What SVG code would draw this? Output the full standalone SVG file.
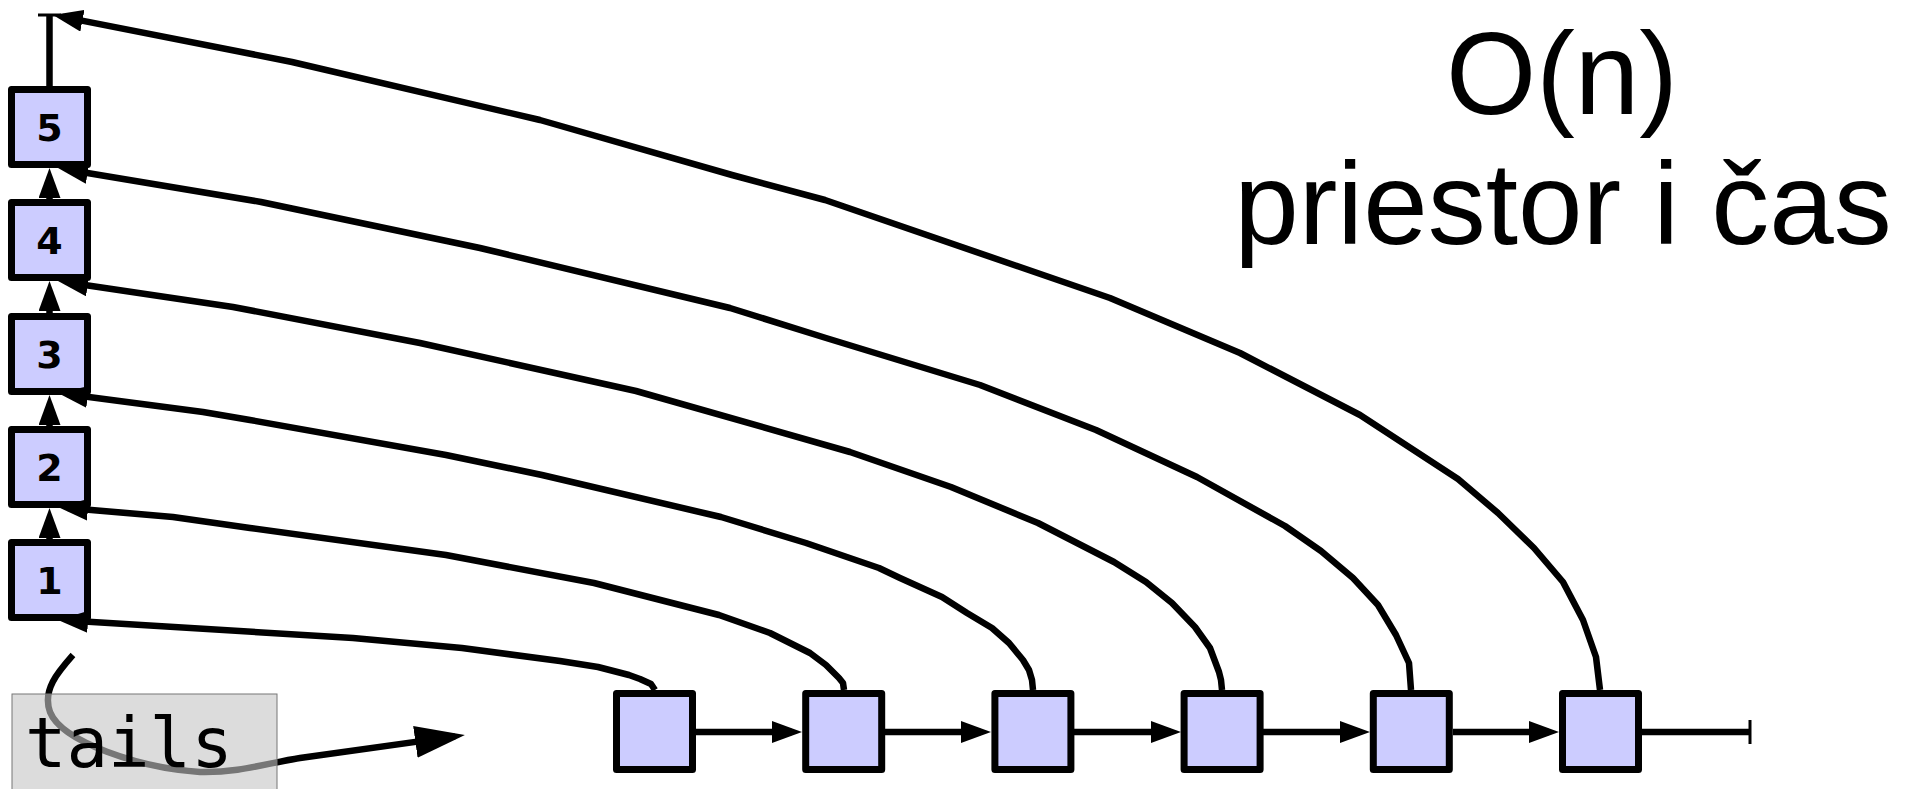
<svg xmlns="http://www.w3.org/2000/svg" width="1915" height="789" viewBox="0 0 1915 789">
  <style>
    .box { fill: #ccccff; stroke: #000; stroke-width: 7; stroke-linejoin: round; }
    .num { font-family: "DejaVu Sans", "Liberation Sans", sans-serif; font-weight: bold; font-size: 38px; text-anchor: middle; fill: #000; }
    .link { fill: none; stroke: #000; stroke-width: 6.5; stroke-linejoin: round; }
    .arr { marker-end: url(#head); }
    .title { font-family: "Liberation Sans", Arial, sans-serif; font-size: 116px; text-anchor: middle; fill: #000; }
    .mono { font-family: "DejaVu Sans Mono", "Liberation Mono", monospace; font-size: 69px; fill: #000; }
  </style>
  <defs>
    <marker id="head" markerUnits="userSpaceOnUse" markerWidth="30" markerHeight="22" refX="20" refY="11" orient="auto">
      <path d="M0,0 L30,11 L0,22 Z" fill="#000"/>
    </marker>
    <marker id="bighead" markerUnits="userSpaceOnUse" markerWidth="50" markerHeight="32" refX="40" refY="16" orient="auto">
      <path d="M0,0 L50,16 L0,32 Z" fill="#000"/>
    </marker>
  </defs>
  <rect width="1915" height="789" fill="#fff"/>

  <!-- stack of tail pointers, bottom (1) to top (5) -->
  <g id="tail1"><rect class="box" x="11.5" y="542.5" width="76" height="75"/><text class="num" x="49.5" y="594">1</text></g>
  <g id="tail2"><rect class="box" x="11.5" y="429.5" width="76" height="75"/><text class="num" x="49.5" y="481">2</text></g>
  <g id="tail3"><rect class="box" x="11.5" y="316.5" width="76" height="75"/><text class="num" x="49.5" y="368">3</text></g>
  <g id="tail4"><rect class="box" x="11.5" y="202.5" width="76" height="75"/><text class="num" x="49.5" y="254">4</text></g>
  <g id="tail5"><rect class="box" x="11.5" y="89.5" width="76" height="75"/><text class="num" x="49.5" y="141">5</text></g>

  <!-- linked list nodes -->
  <g id="node1"><rect class="box" x="616.5" y="693.5" width="76" height="76"/></g>
  <g id="node2"><rect class="box" x="805.7" y="693.5" width="76" height="76"/></g>
  <g id="node3"><rect class="box" x="994.9" y="693.5" width="76" height="76"/></g>
  <g id="node4"><rect class="box" x="1184.1" y="693.5" width="76" height="76"/></g>
  <g id="node5"><rect class="box" x="1373.3" y="693.5" width="76" height="76"/></g>
  <g id="node6"><rect class="box" x="1562.5" y="693.5" width="76" height="76"/></g>

  <!-- complexity label -->
  <g id="label">
    <text class="title" x="1562" y="114">O(n)</text>
    <text class="title" x="1563" y="244">priestor i čas</text>
  </g>

  <g id="connectors">
    <!-- stack chain -->
    <line class="link arr" x1="49.5" y1="540" x2="49.5" y2="518"/>
    <line class="link arr" x1="49.5" y1="427" x2="49.5" y2="405"/>
    <line class="link arr" x1="49.5" y1="313" x2="49.5" y2="291"/>
    <line class="link arr" x1="49.5" y1="200" x2="49.5" y2="178"/>
    <line class="link" x1="49.5" y1="87" x2="49.5" y2="15"/>
    <line x1="38" y1="15" x2="61" y2="15" stroke="#000" stroke-width="3"/>

    <!-- list next pointers -->
    <line class="link arr" x1="696" y1="732" x2="792" y2="732"/>
    <line class="link arr" x1="885" y1="732" x2="981" y2="732"/>
    <line class="link arr" x1="1074" y1="732" x2="1171" y2="732"/>
    <line class="link arr" x1="1263" y1="732" x2="1360" y2="732"/>
    <line class="link arr" x1="1453" y1="732" x2="1549" y2="732"/>
    <line class="link" x1="1642" y1="732" x2="1750" y2="732"/>
    <line x1="1750" y1="720" x2="1750" y2="744" stroke="#000" stroke-width="3"/>

    <!-- node -> tail pointers -->
    <polyline class="link arr" points="655,690 651,684 640,679 629,675 598,667 560,661 462,648 353,638 68,620.6"/>
    <polyline class="link arr" points="844,690 843,683 839,678 826,665 810,653 770,633 719,615 594,583 446,555 250,528 173,517 68,507.9"/>
    <polyline class="link arr" points="1033,690 1032,680 1029,670 1023,660 1009,643 992,628 967,613 942,597 900,578 879,568 806,543 721,517 542,475 446,455 250,420 203,412 67.9,394.3"/>
    <polyline class="link arr" points="1222,690 1221,680 1219,672 1210,648 1195,627 1172,603 1146,582 1114,562 1038,523 951,487 850,452 636,391 420,343 233,307 67.9,282.5"/>
    <polyline class="link arr" points="1411,690 1409,663 1396,635 1378,605 1353,578 1321,551 1285,526 1197,477 1096,430 980,385 826,338 730,308 480,248 261,202 67.9,169.7"/>
    <polyline class="link arr" points="1600,690 1596,657 1583,620 1563,582 1534,548 1498,513 1458,479 1360,415 1240,353 1110,298 825,200 732,175 540,120 292,62 62.8,16.9"/>

    <!-- tails pointer -->
    <path class="link" marker-end="url(#bighead)" d="M73,655 C58,672 42,690 50,712 C62,742 140,768 200,772 C238,773 268,763 300,758 L455,736.4"/>
  </g>

  <g id="tails">
    <rect x="12" y="694" width="265" height="100" fill="#c5c5c5" fill-opacity="0.6" stroke="#777" stroke-width="1"/>
    <text class="mono" x="25" y="767">tails</text>
  </g>
</svg>
